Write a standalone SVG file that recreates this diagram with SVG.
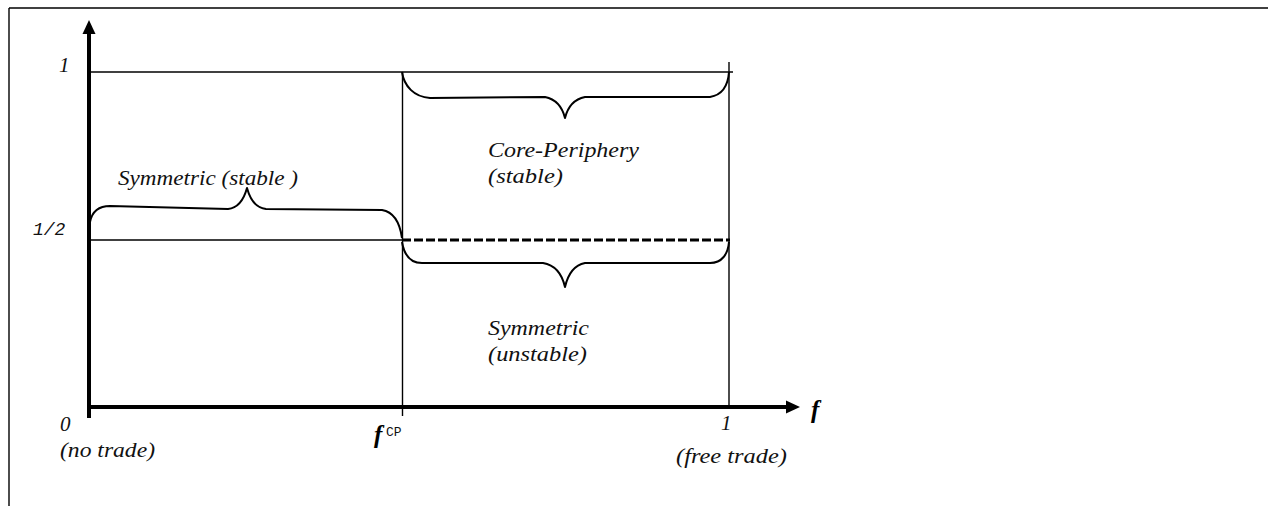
<svg xmlns="http://www.w3.org/2000/svg" width="1268" height="506" viewBox="0 0 1268 506">
<style>
.thin{stroke:#000;stroke-width:1.4;fill:none}
.axis{stroke:#000;stroke-width:4;fill:none}
.brace{stroke:#000;stroke-width:2;fill:none;stroke-linejoin:round}
</style>
<rect width="1268" height="506" fill="#fff"/>
<g id="frame">
<line class="thin" x1="9" y1="8" x2="1268" y2="8"/>
<line class="thin" x1="9" y1="8" x2="9" y2="506"/>
</g>
<g id="axes">
<line class="axis" x1="89" y1="30" x2="89" y2="418"/>
<polygon points="89,20 82.5,34 95.5,34" fill="#000"/>
<line class="axis" x1="87" y1="407" x2="790" y2="407"/>
<polygon points="800,407 786,400.5 786,413.5" fill="#000"/>
</g>
<g id="connectors">
<line class="thin" x1="89" y1="72" x2="733" y2="72"/>
<line class="thin" x1="89" y1="240" x2="402" y2="240"/>
<line x1="402" y1="240" x2="730" y2="240" stroke="#000" stroke-width="3" stroke-dasharray="9,3"/>
<line class="thin" x1="402.5" y1="72" x2="402.5" y2="416"/>
<line class="thin" x1="729" y1="62" x2="729" y2="407"/>
</g>
<g id="brace-symmetric-stable">
<path class="brace" d="M 90 222 C 92 212, 99 206, 110 206 L 228 209 C 238 208, 244 199, 247 188 C 250 199, 256 208, 266 209 L 382 210 C 394 212, 400 224, 402 238"/>
</g>
<g id="brace-core-periphery">
<path class="brace" d="M 402 72 C 404 86, 414 97, 430 98 L 545 97 C 555 99, 562 106, 565 118 C 568 106, 575 99, 585 97 L 710 97 C 722 95, 728 86, 729 72"/>
</g>
<g id="brace-symmetric-unstable">
<path class="brace" d="M 402 242 C 404 254, 410 263, 422 263 L 543 263 C 555 265, 562 274, 565 287 C 568 274, 575 265, 585 263 L 710 263 C 722 263, 728 254, 729 242"/>
</g>
<g id="labels" font-family="Liberation Serif, serif" font-style="italic" font-size="21" fill="#111">
<text x="59" y="72">1</text>
<text x="33" y="235" font-family="Liberation Mono, monospace" font-size="18">1/2</text>
<text x="60" y="431">0</text>
<text x="60" y="457" textLength="95" lengthAdjust="spacingAndGlyphs">(no trade)</text>
<text x="374" y="443" font-weight="bold" font-size="25" fill="#000">f</text>
<text x="386" y="436" font-family="Liberation Mono, monospace" font-style="normal" font-size="13">CP</text>
<text x="721" y="430">1</text>
<text x="676" y="463" textLength="111" lengthAdjust="spacingAndGlyphs">(free trade)</text>
<text x="811" y="418" font-weight="bold" font-size="25" fill="#000">f</text>
<text x="118" y="185" textLength="180" lengthAdjust="spacingAndGlyphs">Symmetric (stable )</text>
<text x="488" y="157" textLength="151" lengthAdjust="spacingAndGlyphs">Core-Periphery</text>
<text x="488" y="183" textLength="75" lengthAdjust="spacingAndGlyphs">(stable)</text>
<text x="488" y="335" textLength="101" lengthAdjust="spacingAndGlyphs">Symmetric</text>
<text x="488" y="361" textLength="99" lengthAdjust="spacingAndGlyphs">(unstable)</text>
</g>
</svg>
